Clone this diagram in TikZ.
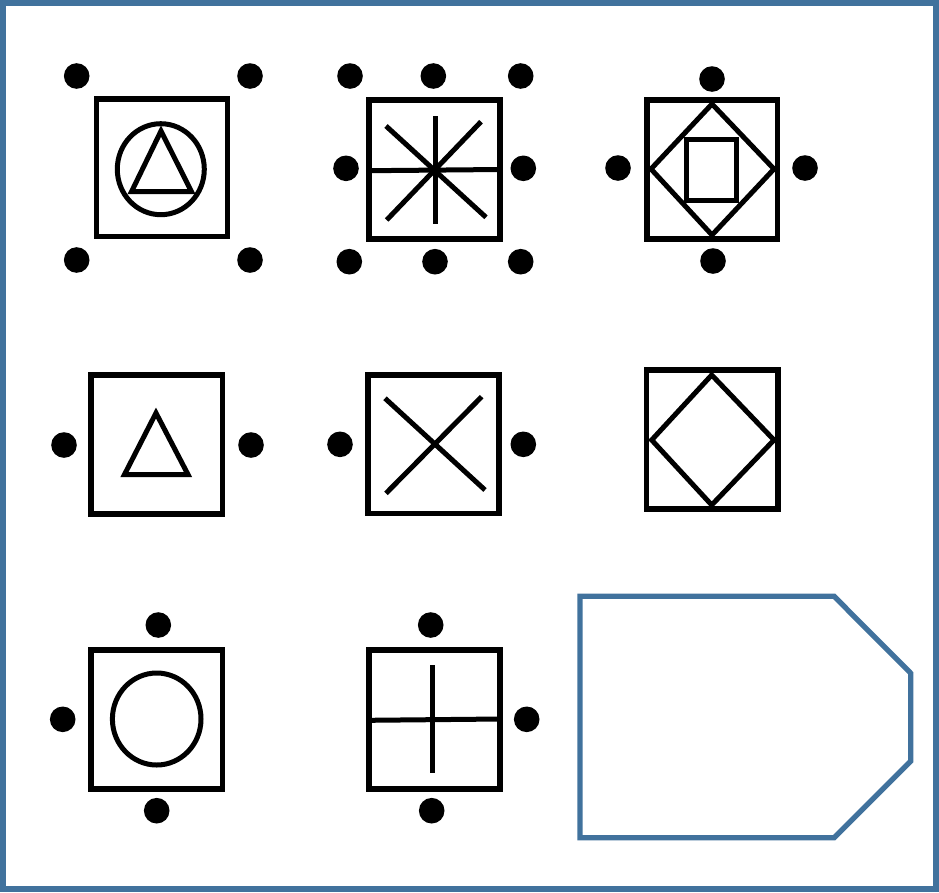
\documentclass[tikz,border=0pt]{standalone}
\usepackage{tikz}
\definecolor{frameblue}{RGB}{65,114,157}

\begin{document}
\begin{tikzpicture}[x=1pt,y=-1pt,
  figbox/.style={draw=black,line width=5.5pt},
  figline/.style={draw=black,line width=5pt},
  dotblk/.style={fill=black}]
\useasboundingbox (0,0) rectangle (939,892);
\draw[frameblue,line width=6pt] (3,3) rectangle (936,889);
% row 1
\draw[figbox] (96.3,99) rectangle (227.5,236.7);
\draw[figline] (160.8,169.2) ellipse[x radius=43.5pt,y radius=45.5pt];
\draw[figline] (161,131) -- (131.5,191.7) -- (191.5,191.7) -- cycle;
\draw[figbox] (369,100) rectangle (500,239);
\draw[figline] (369,170.7) -- (500,169.5);
\draw[figline] (435,116) -- (435,224);
\draw[figline] (386,126) -- (486,217.3);
\draw[figline] (481,121.7) -- (386.7,220);
\draw[figbox] (647,100) rectangle (777.5,239);
\draw[figline] (712,104) -- (774,169) -- (712,235) -- (651,169) -- cycle;
\draw[figline] (686.7,139.5) rectangle (736,200.5);
% row 2
\draw[figbox] (90.8,375) rectangle (222.5,514);
\draw[figline] (156,413) -- (124.5,474.5) -- (188,474.5) -- cycle;
\draw[figbox] (368.2,374.8) rectangle (499.2,513.5);
\draw[figline] (385,398.3) -- (485,490);
\draw[figline] (481.7,396.7) -- (386,493.3);
\draw[figbox] (646.5,369.8) rectangle (778.2,509.2);
\draw[figline] (711.7,375) -- (774,440) -- (711.7,505) -- (651.7,440) -- cycle;
% row 3
\draw[figbox] (90.8,650.2) rectangle (222.5,788.8);
\draw[figline] (156.7,719) ellipse[x radius=44.3pt,y radius=46pt];
\draw[figbox] (368.8,650.2) rectangle (500,788.8);
\draw[figline] (432.8,665) -- (432.8,773.3);
\draw[figline] (368.8,720.3) -- (500,719);
% answer slot
\draw[frameblue,line width=5.3pt] (580,596.2) -- (834,596.2) -- (910.8,673.3)
  -- (910.8,761) -- (834,837.8) -- (580,837.8) -- cycle;
% dots
\foreach \x/\y in {76.7/76,250/76,76.7/260,250/260,
  350/76,433.3/76,520.7/76,346/168.3,523.3/168.3,349.3/261.7,435/261.7,520.7/261.7,
  712/79,618/168,805/168,713/261,
  64/445,251/445,340/444.3,523.3/444.3,
  158.3/625,62.7/719.3,156.7/810.7,
  430.7/625,526.7/719.3,431.7/810.7}{
  \fill[dotblk] (\x,\y) circle[radius=12.8pt];
}
\end{tikzpicture}
\end{document}
